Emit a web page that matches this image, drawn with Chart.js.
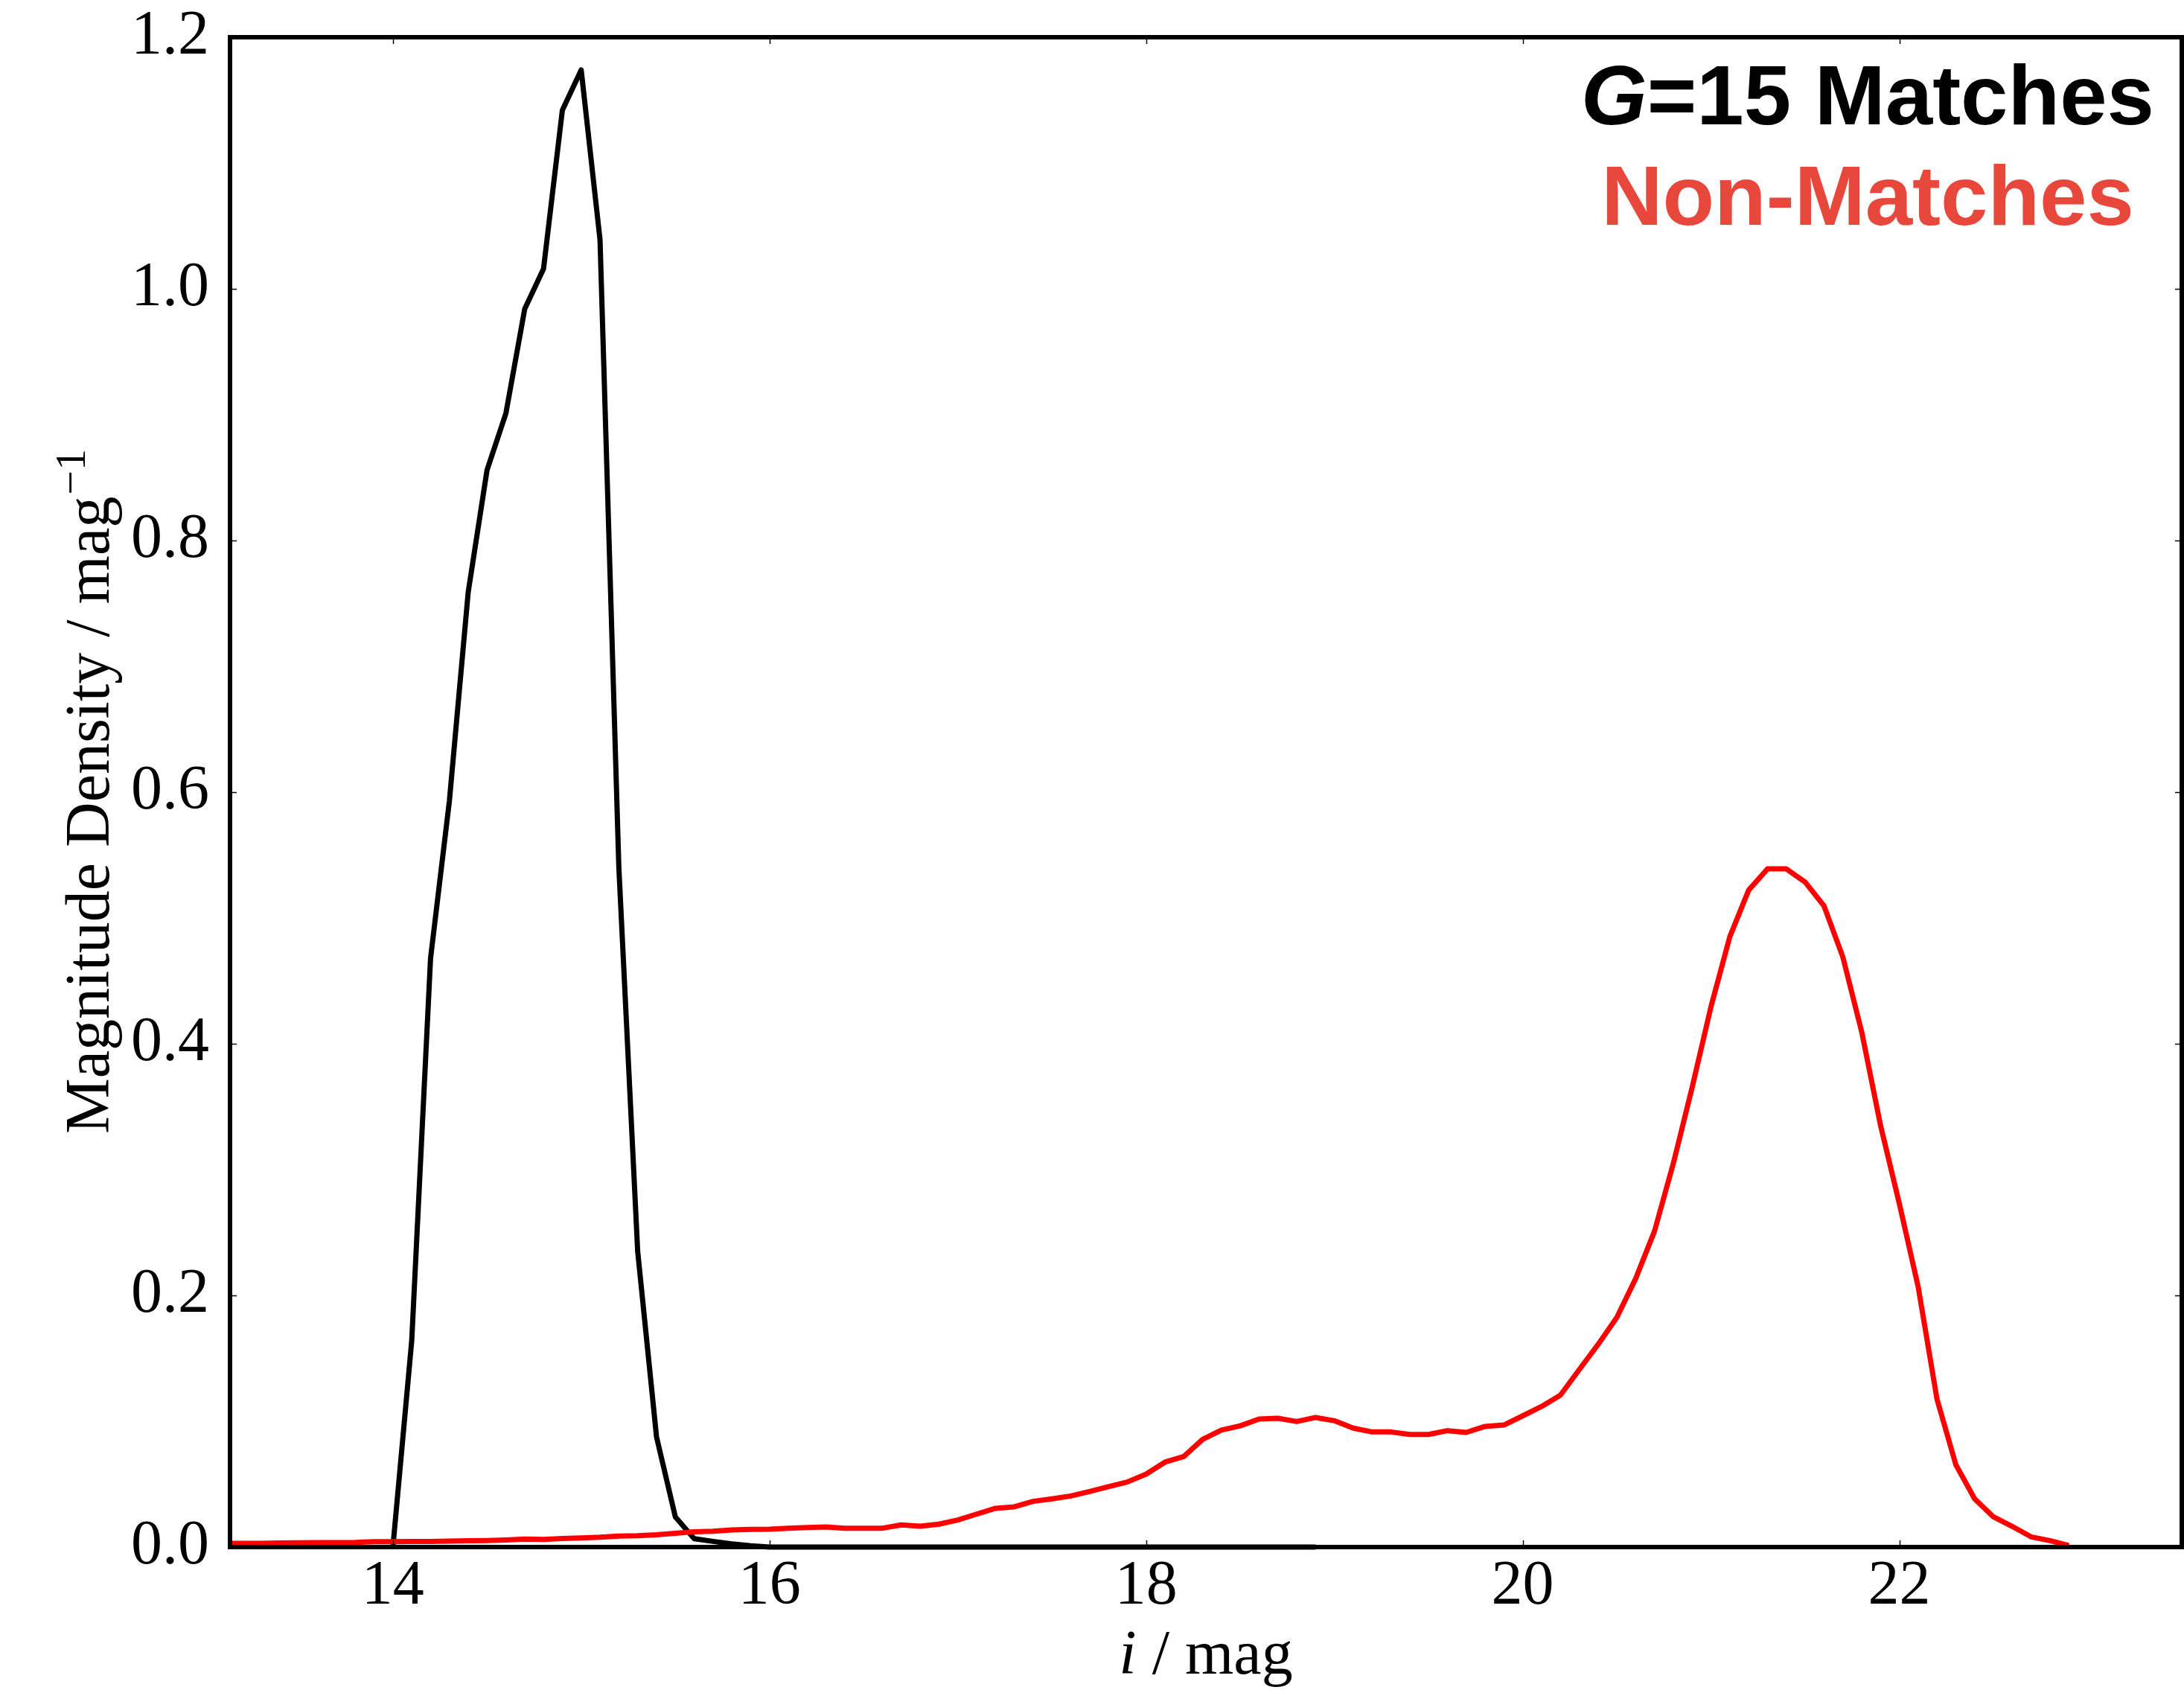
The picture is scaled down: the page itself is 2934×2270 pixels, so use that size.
<!DOCTYPE html>
<html>
<head>
<meta charset="utf-8">
<title>Magnitude density</title>
<script src="https://cdn.jsdelivr.net/npm/chart.js@4.4.1/dist/chart.umd.min.js"></script>
<style>
    html, body { margin: 0; padding: 0; background: #ffffff; }
    canvas { display: block; }
</style>
</head>
<body>
<canvas id="density" width="2934" height="2270"></canvas>
<script>
// i-band magnitude bin centres (0.1 mag bins)
const magBins = [
    13.1, 13.2, 13.3, 13.4, 13.5, 13.6, 13.7, 13.8, 13.9,
    14.0, 14.1, 14.2, 14.3, 14.4, 14.5, 14.6, 14.7, 14.8, 14.9,
    15.0, 15.1, 15.2, 15.3, 15.4, 15.5, 15.6, 15.7, 15.8, 15.9,
    16.0, 16.1, 16.2, 16.3, 16.4, 16.5, 16.6, 16.7, 16.8, 16.9,
    17.0, 17.1, 17.2, 17.3, 17.4, 17.5, 17.6, 17.7, 17.8, 17.9,
    18.0, 18.1, 18.2, 18.3, 18.4, 18.5, 18.6, 18.7, 18.8, 18.9,
    19.0, 19.1, 19.2, 19.3, 19.4, 19.5, 19.6, 19.7, 19.8, 19.9,
    20.0, 20.1, 20.2, 20.3, 20.4, 20.5, 20.6, 20.7, 20.8, 20.9,
    21.0, 21.1, 21.2, 21.3, 21.4, 21.5, 21.6, 21.7, 21.8, 21.9,
    22.0, 22.1, 22.2, 22.3, 22.4, 22.5, 22.6, 22.7, 22.8, 22.9
];

// G=15 matches (null = no bin)
const matchDensity = [
    null, null, null, null, null, null, null, null, null,
    0.0, 0.164, 0.468, 0.593, 0.759, 0.856, 0.901, 0.984, 1.016, 1.142,
    1.174, 1.039, 0.540, 0.235, 0.0876, 0.024, 0.0067, 0.0045, 0.0025, 0.001,
    0, 0, 0, 0, 0, 0, 0, 0, 0, 0,
    0, 0, 0, 0, 0, 0, 0, 0, 0, 0,
    0, 0, 0, 0, 0, 0, 0, 0, 0, 0,
    null, null, null, null, null, null, null, null, null, null,
    null, null, null, null, null, null, null, null, null, null,
    null, null, null, null, null, null, null, null, null, null,
    null, null, null, null, null, null, null, null, null, null
];

// non-matches
const nonMatchDensity = [
    0.003, 0.003, 0.003, 0.0032, 0.0034, 0.0036, 0.0036, 0.0037, 0.0043,
    0.0043, 0.0044, 0.0045, 0.0048, 0.0051, 0.0052, 0.0056, 0.0063, 0.0061, 0.0068,
    0.0073, 0.0078, 0.0087, 0.009, 0.0097, 0.011, 0.0122, 0.0126, 0.0136, 0.014,
    0.0142, 0.015, 0.0156, 0.016, 0.015, 0.015, 0.015, 0.0176, 0.0166, 0.0182,
    0.0215, 0.0262, 0.0308, 0.032, 0.0363, 0.0383, 0.0406, 0.0442, 0.048, 0.0517,
    0.058, 0.0675, 0.072, 0.0856, 0.093, 0.0964, 0.1018, 0.1024, 0.0998, 0.103,
    0.1004, 0.0945, 0.0915, 0.0915, 0.0895, 0.0895, 0.0925, 0.0911, 0.0959, 0.097,
    0.1043, 0.1117, 0.1207, 0.141, 0.161, 0.1825, 0.2134, 0.2511, 0.305, 0.3655,
    0.4296, 0.4851, 0.5221, 0.539, 0.539, 0.5285, 0.5096, 0.469, 0.4096, 0.3353,
    0.273, 0.207, 0.1176, 0.0655, 0.0383, 0.024, 0.0164, 0.0081, 0.0051, 0.0013
];

const xRange = [13.135, 23.5];
const yRange = [0, 1.2];

const serif = "'Liberation Serif', 'Times New Roman', serif";
const sans = "'Liberation Sans', Helvetica, Arial, sans-serif";

const toPoints = values => magBins.map((m, i) => ({ x: m, y: values[i] }));

// inward ticks on all four sides, box frame, axis titles and text legend
const decorations = {
    id: 'decorations',
    afterDraw(chart) {
        const ctx = chart.ctx;
        const area = chart.chartArea;
        const xs = chart.scales.x;
        const ys = chart.scales.y;
        const tickLen = 9;

        ctx.save();
        ctx.strokeStyle = '#000000';
        ctx.lineWidth = 1.5;
        ctx.beginPath();
        xs.ticks.forEach(t => {
            const px = Math.round(xs.getPixelForValue(t.value)) + 0.5;
            ctx.moveTo(px, area.bottom);
            ctx.lineTo(px, area.bottom - tickLen);
            ctx.moveTo(px, area.top);
            ctx.lineTo(px, area.top + tickLen);
        });
        ys.ticks.forEach(t => {
            const py = Math.round(ys.getPixelForValue(t.value)) + 0.5;
            ctx.moveTo(area.left, py);
            ctx.lineTo(area.left + tickLen, py);
            ctx.moveTo(area.right, py);
            ctx.lineTo(area.right - tickLen, py);
        });
        ctx.stroke();

        ctx.lineWidth = 6;
        ctx.strokeRect(area.left, area.top, area.right - area.left, area.bottom - area.top);

        // x axis title: italic i
        ctx.fillStyle = '#000000';
        ctx.textBaseline = 'alphabetic';
        ctx.textAlign = 'left';
        const italicSerif = 'italic 84px ' + serif;
        const plainSerif = '84px ' + serif;
        ctx.font = italicSerif;
        const wi = ctx.measureText('i').width;
        ctx.font = plainSerif;
        const wRest = ctx.measureText(' / mag').width;
        const xMid = (area.left + area.right) / 2;
        let tx = xMid - (wi + wRest) / 2;
        ctx.font = italicSerif;
        ctx.fillText('i', tx, 2248);
        ctx.font = plainSerif;
        ctx.fillText(' / mag', tx + wi, 2248);

        // y axis title with superscript
        const mainText = 'Magnitude Density / mag';
        const supText = '\u22121';
        ctx.font = plainSerif;
        const wMain = ctx.measureText(mainText).width;
        ctx.font = '58px ' + serif;
        const wSup = ctx.measureText(supText).width;
        ctx.translate(146, (area.top + area.bottom) / 2);
        ctx.rotate(-Math.PI / 2);
        const start = -(wMain + wSup) / 2;
        ctx.font = plainSerif;
        ctx.fillText(mainText, start, 0);
        ctx.font = '58px ' + serif;
        ctx.fillText(supText, start + wMain + 2, -32);
        ctx.setTransform(1, 0, 0, 1, 0, 0);

        // legend text
        const legendX = 2509;
        const boldItalic = 'italic bold 114px ' + sans;
        const bold = 'bold 114px ' + sans;
        ctx.font = boldItalic;
        const wG = ctx.measureText('G').width;
        ctx.font = bold;
        const wMatch = ctx.measureText('=15 Matches').width;
        const lx = legendX - (wG + wMatch) / 2;
        ctx.fillStyle = '#000000';
        ctx.font = boldItalic;
        ctx.fillText('G', lx, 167);
        ctx.font = bold;
        ctx.fillText('=15 Matches', lx + wG, 167);

        ctx.fillStyle = '#e8473b';
        ctx.textAlign = 'center';
        ctx.fillText('Non-Matches', legendX, 302);
        ctx.restore();
    }
};

const chart = new Chart(document.getElementById('density').getContext('2d'), {
    type: 'line',
    data: {
        datasets: [{
            label: 'Non-Matches',
            data: toPoints(nonMatchDensity),
            borderColor: '#ff0000',
            borderWidth: 7,
            pointRadius: 0,
            tension: 0,
            borderJoinStyle: 'round',
            spanGaps: false
        }, {
            label: 'G=15 Matches',
            data: toPoints(matchDensity),
            borderColor: '#000000',
            borderWidth: 7,
            pointRadius: 0,
            tension: 0,
            borderJoinStyle: 'round',
            spanGaps: false,
            clip: { left: 0, top: 0, right: 0, bottom: 4 }
        }]
    },
    options: {
        responsive: false,
        animation: false,
        devicePixelRatio: 1,
        layout: {
            padding: { top: 50, right: 3, left: 0, bottom: 0 }
        },
        plugins: {
            legend: { display: false },
            tooltip: { enabled: false }
        },
        scales: {
            x: {
                type: 'linear',
                min: xRange[0],
                max: xRange[1],
                grid: { display: false, drawTicks: false },
                border: { display: false },
                ticks: {
                    stepSize: 2,
                    includeBounds: false,
                    maxRotation: 0,
                    padding: 4,
                    color: '#000000',
                    font: { family: serif, size: 84 },
                    callback: v => v.toFixed(0)
                },
                afterFit: s => {
                    s.height = 192;
                    s.paddingLeft = 0;
                    s.paddingRight = 0;
                }
            },
            y: {
                type: 'linear',
                min: yRange[0],
                max: yRange[1],
                grid: { display: false, drawTicks: false },
                border: { display: false },
                ticks: {
                    stepSize: 0.2,
                    padding: 28,
                    color: '#000000',
                    font: { family: serif, size: 84 },
                    callback: v => v.toFixed(1)
                },
                afterFit: s => {
                    s.width = 309;
                    s.paddingTop = 0;
                    s.paddingBottom = 0;
                }
            }
        }
    },
    plugins: [decorations]
});
</script>
</body>
</html>
